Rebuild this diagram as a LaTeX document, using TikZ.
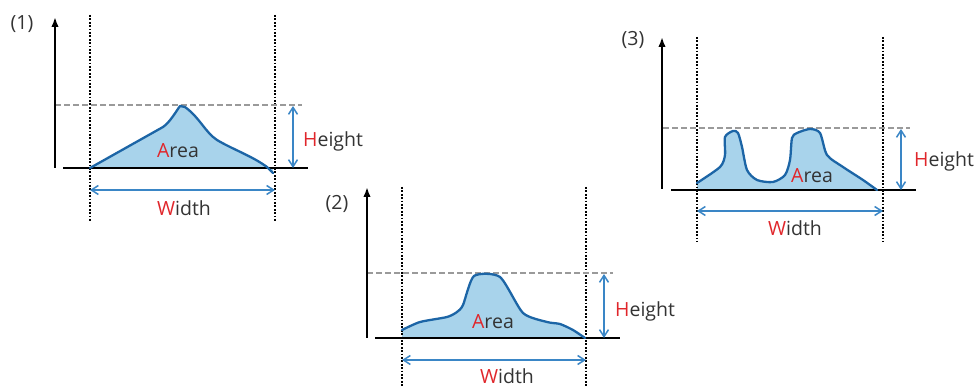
\documentclass[tikz,border=0pt]{standalone}
\usepackage{fontspec}
\setmainfont{Open Sans}
\usetikzlibrary{arrows.meta}
\definecolor{txt}{HTML}{333333}
\definecolor{hl}{HTML}{E0262B}
\definecolor{dimblue}{HTML}{3A86C6}
\definecolor{curveblue}{HTML}{1C65A6}
\definecolor{fillblue}{HTML}{A8D3EB}
\definecolor{guide}{HTML}{9A9A9A}
\begin{document}
\begin{tikzpicture}[x=1pt,y=-1pt,
 axis/.style={line width=2pt, -{Latex[length=10pt,width=7.5pt]}},
 base/.style={line width=2.6pt},
 vguide/.style={line width=2.3pt, dash pattern=on 1.8pt off 1.6pt},
 hguide/.style={guide, line width=2.2pt, dash pattern=on 6pt off 3pt},
 dim/.style={dimblue, line width=1.5pt, {Straight Barb[length=7pt,width=9pt]}-{Straight Barb[length=7pt,width=9pt]}},
 curve/.style={curveblue, line width=2.3pt, line join=round, line cap=round},
 area/.style={fill=fillblue},
 lbl/.style={font=\fontsize{19.5}{22}\selectfont, text=txt, inner sep=0pt},
]
\useasboundingbox (0,0) rectangle (975,387);

% ---------- Panel 1 ----------
\node[lbl] (p1) at (22,24) {(1)};
\coordinate (a1b) at (55,168); \coordinate (a1t) at (55,17);
\fill[area] (90,168) -- (163,127) .. controls (170,122) and (175,113) .. (180,106)
  -- (185,107) .. controls (200,118) and (205,132) .. (217,140)
  .. controls (232,149) and (252,156) .. (267,167) -- (273,173) -- (273,168) -- cycle;
\coordinate (g1lt) at (90,15); \coordinate (g1lb) at (90,222);
\coordinate (g1rt) at (275,15); \coordinate (g1rb) at (275,222);
\draw[vguide] (g1lt) -- (g1lb);
\draw[vguide] (g1rt) -- (g1rb);
\coordinate (h1l) at (55,105); \coordinate (h1r) at (302,105);
\draw[hguide] (h1l) -- (h1r);
\draw[axis] (a1b) -- (a1t);
\coordinate (b1l) at (63,168); \coordinate (b1r) at (308,168);
\draw[base] (b1l) -- (b1r);
\draw[curve] (90,168) -- (163,127) .. controls (170,122) and (175,113) .. (180,106)
  -- (185,107) .. controls (200,118) and (205,132) .. (217,140)
  .. controls (232,149) and (252,156) .. (267,167) -- (273,173);
\coordinate (ht1) at (293,106); \coordinate (hb1) at (293,168);
\draw[dim] (ht1) -- (hb1);
\coordinate (wl1) at (90,190); \coordinate (wr1) at (275,190);
\draw[dim] (wl1) -- (wr1);
\node[lbl, anchor=base west] (hgt1) at (303,147) {\textcolor{hl}{H}eight};
\node[lbl, anchor=base] (wid1) at (184,216) {\textcolor{hl}{W}idth};
\node[lbl, anchor=base] (are1) at (178,158) {\textcolor{hl}{A}rea};

% ---------- Panel 2 ----------
\node[lbl] (p2) at (337,204) {(2)};
\coordinate (a2b) at (367,338); \coordinate (a2t) at (367,187);
\fill[area] plot[smooth, tension=0.4] coordinates {(402,330) (420,322) (447,317) (457,312) (463,305) (474,276) (500,277) (523,313) (547,322) (560,324) (573,330) (585,338)} -- (402,338) -- cycle;
\coordinate (g2lt) at (402,187); \coordinate (g2lb) at (402,387);
\coordinate (g2rt) at (586,187); \coordinate (g2rb) at (586,387);
\draw[vguide] (g2lt) -- (g2lb);
\draw[vguide] (g2rt) -- (g2rb);
\coordinate (h2l) at (367,273); \coordinate (h2r) at (613,273);
\draw[hguide] (h2l) -- (h2r);
\draw[axis] (a2b) -- (a2t);
\coordinate (b2l) at (375,338); \coordinate (b2r) at (620,338);
\draw[base] (b2l) -- (b2r);
\draw[curve] plot[smooth, tension=0.4] coordinates {(402,330) (420,322) (447,317) (457,312) (463,305) (474,276) (500,277) (523,313) (547,322) (560,324) (573,330) (585,338)};
\coordinate (ht2) at (604,274); \coordinate (hb2) at (604,338);
\draw[dim] (ht2) -- (hb2);
\coordinate (wl2) at (402,360); \coordinate (wr2) at (586,360);
\draw[dim] (wl2) -- (wr2);
\node[lbl, anchor=base west] (hgt2) at (615,317) {\textcolor{hl}{H}eight};
\node[lbl, anchor=base] (wid2) at (507,384) {\textcolor{hl}{W}idth};
\node[lbl, anchor=base] (are2) at (493,329) {\textcolor{hl}{A}rea};

% ---------- Panel 3 ----------
\node[lbl] (p3) at (633,40) {(3)};
\coordinate (a3b) at (662,189); \coordinate (a3t) at (662,37);
\fill[area] plot[smooth, tension=0.45] coordinates {(697,183) (720,167) (725,155) (725,137) (733,131) (738,133) (742,147) (747,170) (757,180) (773,182) (785,175) (790,160) (792,138) (797,133) (810,129) (820,133) (827,155) (843,167) (863,180) (877,190)} -- (697,190) -- cycle;
\coordinate (g3lt) at (697,37); \coordinate (g3lb) at (697,242);
\coordinate (g3rt) at (883,37); \coordinate (g3rb) at (883,242);
\draw[vguide] (g3lt) -- (g3lb);
\draw[vguide] (g3rt) -- (g3rb);
\coordinate (h3l) at (663,128); \coordinate (h3r) at (910,128);
\draw[hguide] (h3l) -- (h3r);
\draw[axis] (a3b) -- (a3t);
\coordinate (b3l) at (671,190); \coordinate (b3r) at (916,190);
\draw[base] (b3l) -- (b3r);
\draw[curve] plot[smooth, tension=0.45] coordinates {(697,183) (720,167) (725,155) (725,137) (733,131) (738,133) (742,147) (747,170) (757,180) (773,182) (785,175) (790,160) (792,138) (797,133) (810,129) (820,133) (827,155) (843,167) (863,180) (877,190)};
\coordinate (ht3) at (901,129); \coordinate (hb3) at (901,190);
\draw[dim] (ht3) -- (hb3);
\coordinate (wl3) at (697,211); \coordinate (wr3) at (883,211);
\draw[dim] (wl3) -- (wr3);
\node[lbl, anchor=base west] (hgt3) at (914,167) {\textcolor{hl}{H}eight};
\node[lbl, anchor=base] (wid3) at (795,236) {\textcolor{hl}{W}idth};
\node[lbl, anchor=base] (are3) at (812,183) {\textcolor{hl}{A}rea};
\end{tikzpicture}
\end{document}
